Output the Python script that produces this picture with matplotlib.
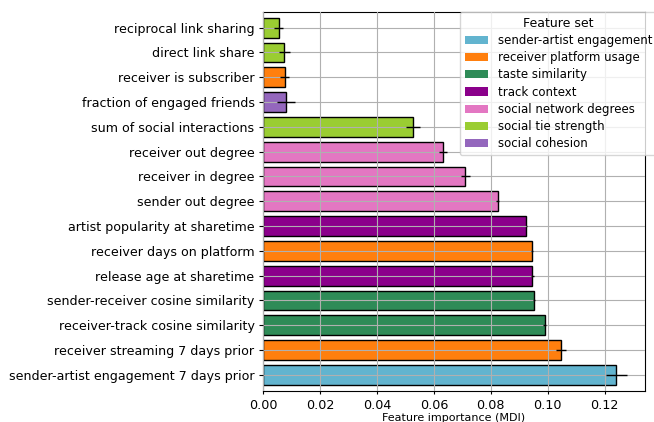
import numpy as np
import matplotlib
matplotlib.use('Agg')
import matplotlib.pyplot as plt
from matplotlib.patches import Patch

# features, bottom to top
features = ['sender-artist engagement 7 days prior',
            'receiver streaming 7 days prior',
            'receiver-track cosine similarity',
            'sender-receiver cosine similarity',
            'release age at sharetime',
            'receiver days on platform',
            'artist popularity at sharetime',
            'sender out degree',
            'receiver in degree',
            'receiver out degree',
            'sum of social interactions',
            'fraction of engaged friends',
            'receiver is subscriber',
            'direct link share',
            'reciprocal link sharing']
importance = [0.1241, 0.1047, 0.0990, 0.0952, 0.0946, 0.0944, 0.0925,
              0.0825, 0.0711, 0.0633, 0.0527, 0.0082, 0.0076, 0.0075, 0.0056]
err = [0.0036, 0.0018, 0.0005, 0.0004, 0.0004, 0.0004, 0.0003,
       0.0005, 0.0016, 0.0015, 0.0025, 0.0032, 0.0015, 0.0020, 0.0016]
groups = ['sender-artist engagement', 'receiver platform usage', 'taste similarity',
          'taste similarity', 'track context', 'receiver platform usage', 'track context',
          'social network degrees', 'social network degrees', 'social network degrees',
          'social tie strength', 'social cohesion', 'receiver platform usage',
          'social tie strength', 'social tie strength']

group_names = ['sender-artist engagement', 'receiver platform usage', 'taste similarity',
               'track context', 'social network degrees', 'social tie strength',
               'social cohesion']
group_colors = ['#62b4cf', '#ff7f0e', '#2e8b57', '#8b008b', '#e377c2', '#9acd32', '#9467bd']
cmap = dict(zip(group_names, group_colors))

plt.rcParams['axes.axisbelow'] = False
fig = plt.figure(figsize=(6.54, 4.22), dpi=100)
ax = fig.add_axes([0.402, 0.073, 0.584, 0.899])

ypos = np.arange(len(features))
ax.barh(ypos, importance, xerr=err, height=0.8,
        color=[cmap[g] for g in groups], edgecolor='black', linewidth=1,
        error_kw=dict(ecolor='black', elinewidth=1, zorder=3))
ax.set_yticks(ypos)
ax.set_yticklabels(features, fontsize=9.1)
ax.tick_params(axis='x', labelsize=9.2, length=2.5, pad=3)
ax.tick_params(axis='y', length=3, pad=3)
ax.set_ylim(-0.66, 14.64)
ax.grid(True)
ax.set_xlabel('Feature importance (MDI)', fontsize=8, labelpad=1)

handles = [Patch(facecolor=c, label=n) for n, c in zip(group_names, group_colors)]
fig.legend(handles=handles, title='Feature set', loc='upper left',
           bbox_to_anchor=(460.0 / 654, 1 - 12.0 / 422), fontsize=8.5,
           title_fontsize=9, framealpha=0.8, borderaxespad=0,
           labelspacing=0.36)

fig.savefig('out.png', dpi=100)
